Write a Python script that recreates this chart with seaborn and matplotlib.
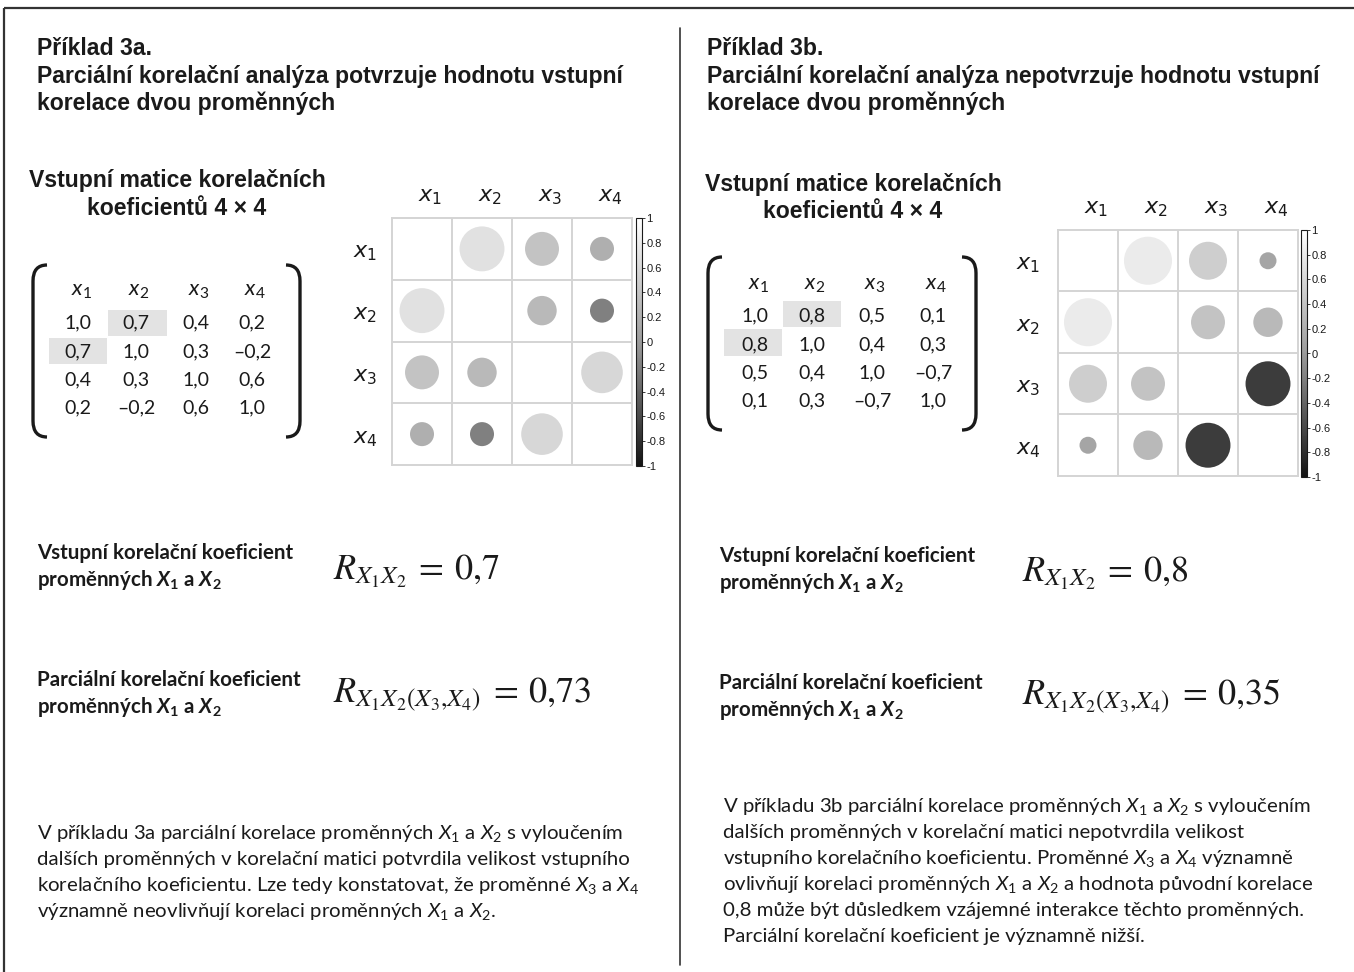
import numpy as np
import pandas as pd
import matplotlib
matplotlib.use("Agg")
import matplotlib.pyplot as plt
import seaborn as sns
from matplotlib.colors import LinearSegmentedColormap, Normalize
from matplotlib.cm import ScalarMappable
from matplotlib.path import Path
from matplotlib.patches import PathPatch, Rectangle

# ---------------- data ----------------
var_labels = ["x1", "x2", "x3", "x4"]
corr_a = [[1.0, 0.7, 0.4, 0.2],
          [0.7, 1.0, 0.3, -0.2],
          [0.4, 0.3, 1.0, 0.6],
          [0.2, -0.2, 0.6, 1.0]]
corr_b = [[1.0, 0.8, 0.5, 0.1],
          [0.8, 1.0, 0.4, 0.3],
          [0.5, 0.4, 1.0, -0.7],
          [0.1, 0.3, -0.7, 1.0]]
r_input = {"a": 0.7, "b": 0.8}
r_partial = {"a": 0.73, "b": 0.35}
cbar_ticks = [1, 0.8, 0.6, 0.4, 0.2, 0, -0.2, -0.4, -0.6, -0.8, -1]

titles = {
    "a": ["Příklad 3a.",
          "Parciální korelační analýza potvrzuje hodnotu vstupní",
          "korelace dvou proměnných"],
    "b": ["Příklad 3b.",
          "Parciální korelační analýza nepotvrzuje hodnotu vstupní",
          "korelace dvou proměnných"],
}
subtitle = ["Vstupní matice korelačních", "koeficientů 4 × 4"]
label_input = ["Vstupní korelační koeficient",
               r"proměnných $\mathbfit{X}_\mathbf{1}$ a $\mathbfit{X}_\mathbf{2}$"]
label_partial = ["Parciální korelační koeficient",
                 r"proměnných $\mathbfit{X}_\mathbf{1}$ a $\mathbfit{X}_\mathbf{2}$"]
body = {
    "a": [r"V příkladu 3a parciální korelace proměnných $X_1$ a $X_2$ s vyloučením",
          "dalších proměnných v korelační matici potvrdila velikost vstupního",
          r"korelačního koeficientu. Lze tedy konstatovat, že proměnné $X_3$ a $X_4$",
          r"významně neovlivňují korelaci proměnných $X_1$ a $X_2$."],
    "b": [r"V příkladu 3b parciální korelace proměnných $X_1$ a $X_2$ s vyloučením",
          "dalších proměnných v korelační matici nepotvrdila velikost",
          r"vstupního korelačního koeficientu. Proměnné $X_3$ a $X_4$ významně",
          r"ovlivňují korelaci proměnných $X_1$ a $X_2$ a hodnota původní korelace",
          "0,8 může být důsledkem vzájemné interakce těchto proměnných.",
          "Parciální korelační koeficient je významně nižší."],
}

# ---------------- style ----------------
sns.set_style("white")
plt.rcParams["font.family"] = ["Liberation Sans", "DejaVu Sans"]
plt.rcParams["mathtext.fontset"] = "custom"
plt.rcParams["mathtext.rm"] = "Lato"
plt.rcParams["mathtext.it"] = "Lato:italic"
plt.rcParams["mathtext.bf"] = "Lato:bold"
plt.rcParams["mathtext.bfit"] = "Lato:italic:bold"

W, H = 1354, 972
fig = plt.figure(figsize=(W / 100, H / 100), dpi=100)
canvas = fig.add_axes([0, 0, 1, 1])
canvas.set_xlim(0, W)
canvas.set_ylim(H, 0)
canvas.axis("off")

corr_cmap = LinearSegmentedColormap.from_list(
    "corr_gray", ["#141414", "#9b9b9b", "#ffffff"])
norm = Normalize(-1, 1)

INK = "#1a1a1a"
HEAD_SIZE = 16.6
LABEL_SIZE = 14.8
BODY_SIZE = 14.7


def fmt(v):
    return f"{v:.1f}".replace(".", ",").replace("-", "–")


def fmt2(v):
    return f"{v:.2f}".replace(".", ",").replace("-", "–")


def bracket(x_edge, x_tip, y0, y1, lw=2.4):
    h = 16
    verts = [(x_tip, y0), (x_edge, y0), (x_edge, y0 + h),
             (x_edge, y1 - h), (x_edge, y1), (x_tip, y1)]
    codes = [Path.MOVETO, Path.CURVE3, Path.CURVE3,
             Path.LINETO, Path.CURVE3, Path.CURVE3]
    canvas.add_patch(PathPatch(Path(verts, codes), fill=False,
                               lw=lw, color=INK, capstyle="butt"))


def px_axes(x0, y0, x1, y1):
    return fig.add_axes([x0 / W, 1 - y1 / H, (x1 - x0) / W, (y1 - y0) / H])


def corr_panel(mat, box, cbar_box, col_lab_y, row_lab_x):
    x0, y0, x1, y1 = box
    ax = px_axes(x0, y0, x1, y1)
    n = len(mat)
    rows = []
    for i in range(n):
        for j in range(n):
            if i != j:
                rows.append({"col": j + 1, "row": i + 1,
                             "r": mat[i][j], "absr": abs(mat[i][j])})
    df = pd.DataFrame(rows)
    cell_pt = (x1 - x0) / n * 0.72
    smax = (cell_pt * 0.895) ** 2
    sns.scatterplot(data=df, x="col", y="row", hue="r", palette=corr_cmap,
                    hue_norm=(-1, 1), size="absr", sizes=(0, smax),
                    size_norm=(0, 1), legend=False, linewidth=0, ax=ax,
                    zorder=3)
    ax.set_xlim(0.5, n + 0.5)
    ax.set_ylim(n + 0.5, 0.5)
    ax.set_xticks([])
    ax.set_yticks([])
    ax.set_xlabel("")
    ax.set_ylabel("")
    for k in np.arange(1.5, n, 1.0):
        ax.axvline(k, color="#d4d4d4", lw=1.4, zorder=1)
        ax.axhline(k, color="#d4d4d4", lw=1.4, zorder=1)
    for s in ax.spines.values():
        s.set_color("#d4d4d4")
        s.set_linewidth(1.4)
    cw = (x1 - x0) / n
    ch = (y1 - y0) / n
    for k, lab in enumerate(var_labels):
        tex = r"$%s_%s$" % (lab[0], lab[1])
        canvas.text(x0 + cw * (k + 0.5) + 8, col_lab_y, tex, fontsize=16,
                    ha="center", va="center", color=INK,
                    math_fontfamily="dejavusans")
        canvas.text(row_lab_x, y0 + ch * (k + 0.5) + 4, tex, fontsize=16,
                    ha="center", va="center", color=INK,
                    math_fontfamily="dejavusans")
    cax = px_axes(*cbar_box)
    cb = fig.colorbar(ScalarMappable(norm=norm, cmap=corr_cmap), cax=cax,
                      ticks=cbar_ticks)
    cb.ax.set_yticklabels([("%g" % t) for t in cbar_ticks])
    cb.ax.tick_params(labelsize=8, length=2, width=0.6, pad=1,
                      colors=INK)
    cb.outline.set_linewidth(0.8)
    cb.outline.set_edgecolor(INK)


def matrix_block(mat, col_x, head_y, row_y, hl_boxes, br_left, br_right, y0, y1):
    for (bx0, by0, bx1, by1) in hl_boxes:
        canvas.add_patch(Rectangle((bx0, by0), bx1 - bx0, by1 - by0,
                                   color="#e3e3e3", lw=0, zorder=1))
    for j, lab in enumerate(var_labels):
        canvas.text(col_x[j] + 3, head_y, r"$%s_%s$" % (lab[0], lab[1]),
                    fontsize=16, ha="center", va="center", color=INK,
                    family="Lato", zorder=3)
    for i in range(len(mat)):
        for j in range(len(mat)):
            canvas.text(col_x[j], row_y[i], fmt(mat[i][j]), fontsize=14,
                        ha="center", va="center", color=INK, family="Lato",
                        zorder=3)
    bracket(br_left[0], br_left[1], y0, y1)
    bracket(br_right[0], br_right[1], y0, y1)


def formula(x, y, sub, value):
    tex = r"$R_{%s}\:=\:%s$" % (sub, value.replace(",", "{,}"))
    canvas.text(x, y, tex, fontsize=26, ha="left", va="baseline",
                color=INK, math_fontfamily="stix")


# ---------------- frame ----------------
canvas.plot([4, W], [8, 8], color="#333333", lw=1.6, solid_capstyle="butt")
canvas.plot([4, 4], [8, H], color="#333333", lw=1.6, solid_capstyle="butt")
canvas.plot([680, 680], [28, 965], color="#333333", lw=1.2)

# ---------------- panel a ----------------
tx = 37
for k, line in enumerate(titles["a"]):
    canvas.text(tx, [55, 83, 110][k], line, fontsize=HEAD_SIZE, weight="bold",
                ha="left", va="baseline", color=INK)
for k, line in enumerate(subtitle):
    canvas.text(177, [181, 208][k], line, fontsize=HEAD_SIZE, weight="bold",
                ha="center", va="center", color=INK)
matrix_block(corr_a, col_x=[78, 136, 196, 252], head_y=291,
             row_y=[323, 352, 380, 408],
             hl_boxes=[(108, 310, 167, 336), (49, 338, 107, 364)],
             br_left=(33, 47), br_right=(300, 286), y0=265, y1=437)
corr_panel(corr_a, (392, 218, 632, 465), (636, 218, 642, 466),
           col_lab_y=196, row_lab_x=365)

for k, line in enumerate(label_input):
    canvas.text(37, [553, 580][k], line, fontsize=LABEL_SIZE, weight="bold",
                family="Lato", ha="left", va="center", color=INK)
for k, line in enumerate(label_partial):
    canvas.text(37, [680, 707][k], line, fontsize=LABEL_SIZE, weight="bold",
                family="Lato", ha="left", va="center", color=INK)
formula(333, 580, "X_1X_2", fmt(r_input["a"]))
formula(333, 703, "X_1X_2(X_3{,}X_4)", fmt2(r_partial["a"]))
for k, line in enumerate(body["a"]):
    canvas.text(37, 833 + 26 * k, line, fontsize=BODY_SIZE, family="Lato",
                ha="left", va="center", color=INK)

# ---------------- panel b ----------------
tx = 707
for k, line in enumerate(titles["b"]):
    canvas.text(tx, [55, 83, 110][k], line, fontsize=HEAD_SIZE, weight="bold",
                ha="left", va="baseline", color=INK)
for k, line in enumerate(subtitle):
    canvas.text(853, [184, 211][k], line, fontsize=HEAD_SIZE, weight="bold",
                ha="center", va="center", color=INK)
matrix_block(corr_b, col_x=[755, 812, 872, 933], head_y=285,
             row_y=[316, 345, 373, 401],
             hl_boxes=[(783, 301, 841, 327), (724, 329, 782, 356)],
             br_left=(708, 722), br_right=(976, 962), y0=257, y1=430)
corr_panel(corr_b, (1058, 230, 1298, 476), (1301, 230, 1307, 477),
           col_lab_y=208, row_lab_x=1028)

for k, line in enumerate(label_input):
    canvas.text(719, [556, 583][k], line, fontsize=LABEL_SIZE, weight="bold",
                family="Lato", ha="left", va="center", color=INK)
for k, line in enumerate(label_partial):
    canvas.text(719, [683, 710][k], line, fontsize=LABEL_SIZE, weight="bold",
                family="Lato", ha="left", va="center", color=INK)
formula(1022, 582, "X_1X_2", fmt(r_input["b"]))
formula(1022, 705, "X_1X_2(X_3{,}X_4)", fmt2(r_partial["b"]))
for k, line in enumerate(body["b"]):
    canvas.text(723, 806 + 26 * k, line, fontsize=BODY_SIZE, family="Lato",
                ha="left", va="center", color=INK)

fig.savefig("out.png", dpi=100, facecolor="white")
